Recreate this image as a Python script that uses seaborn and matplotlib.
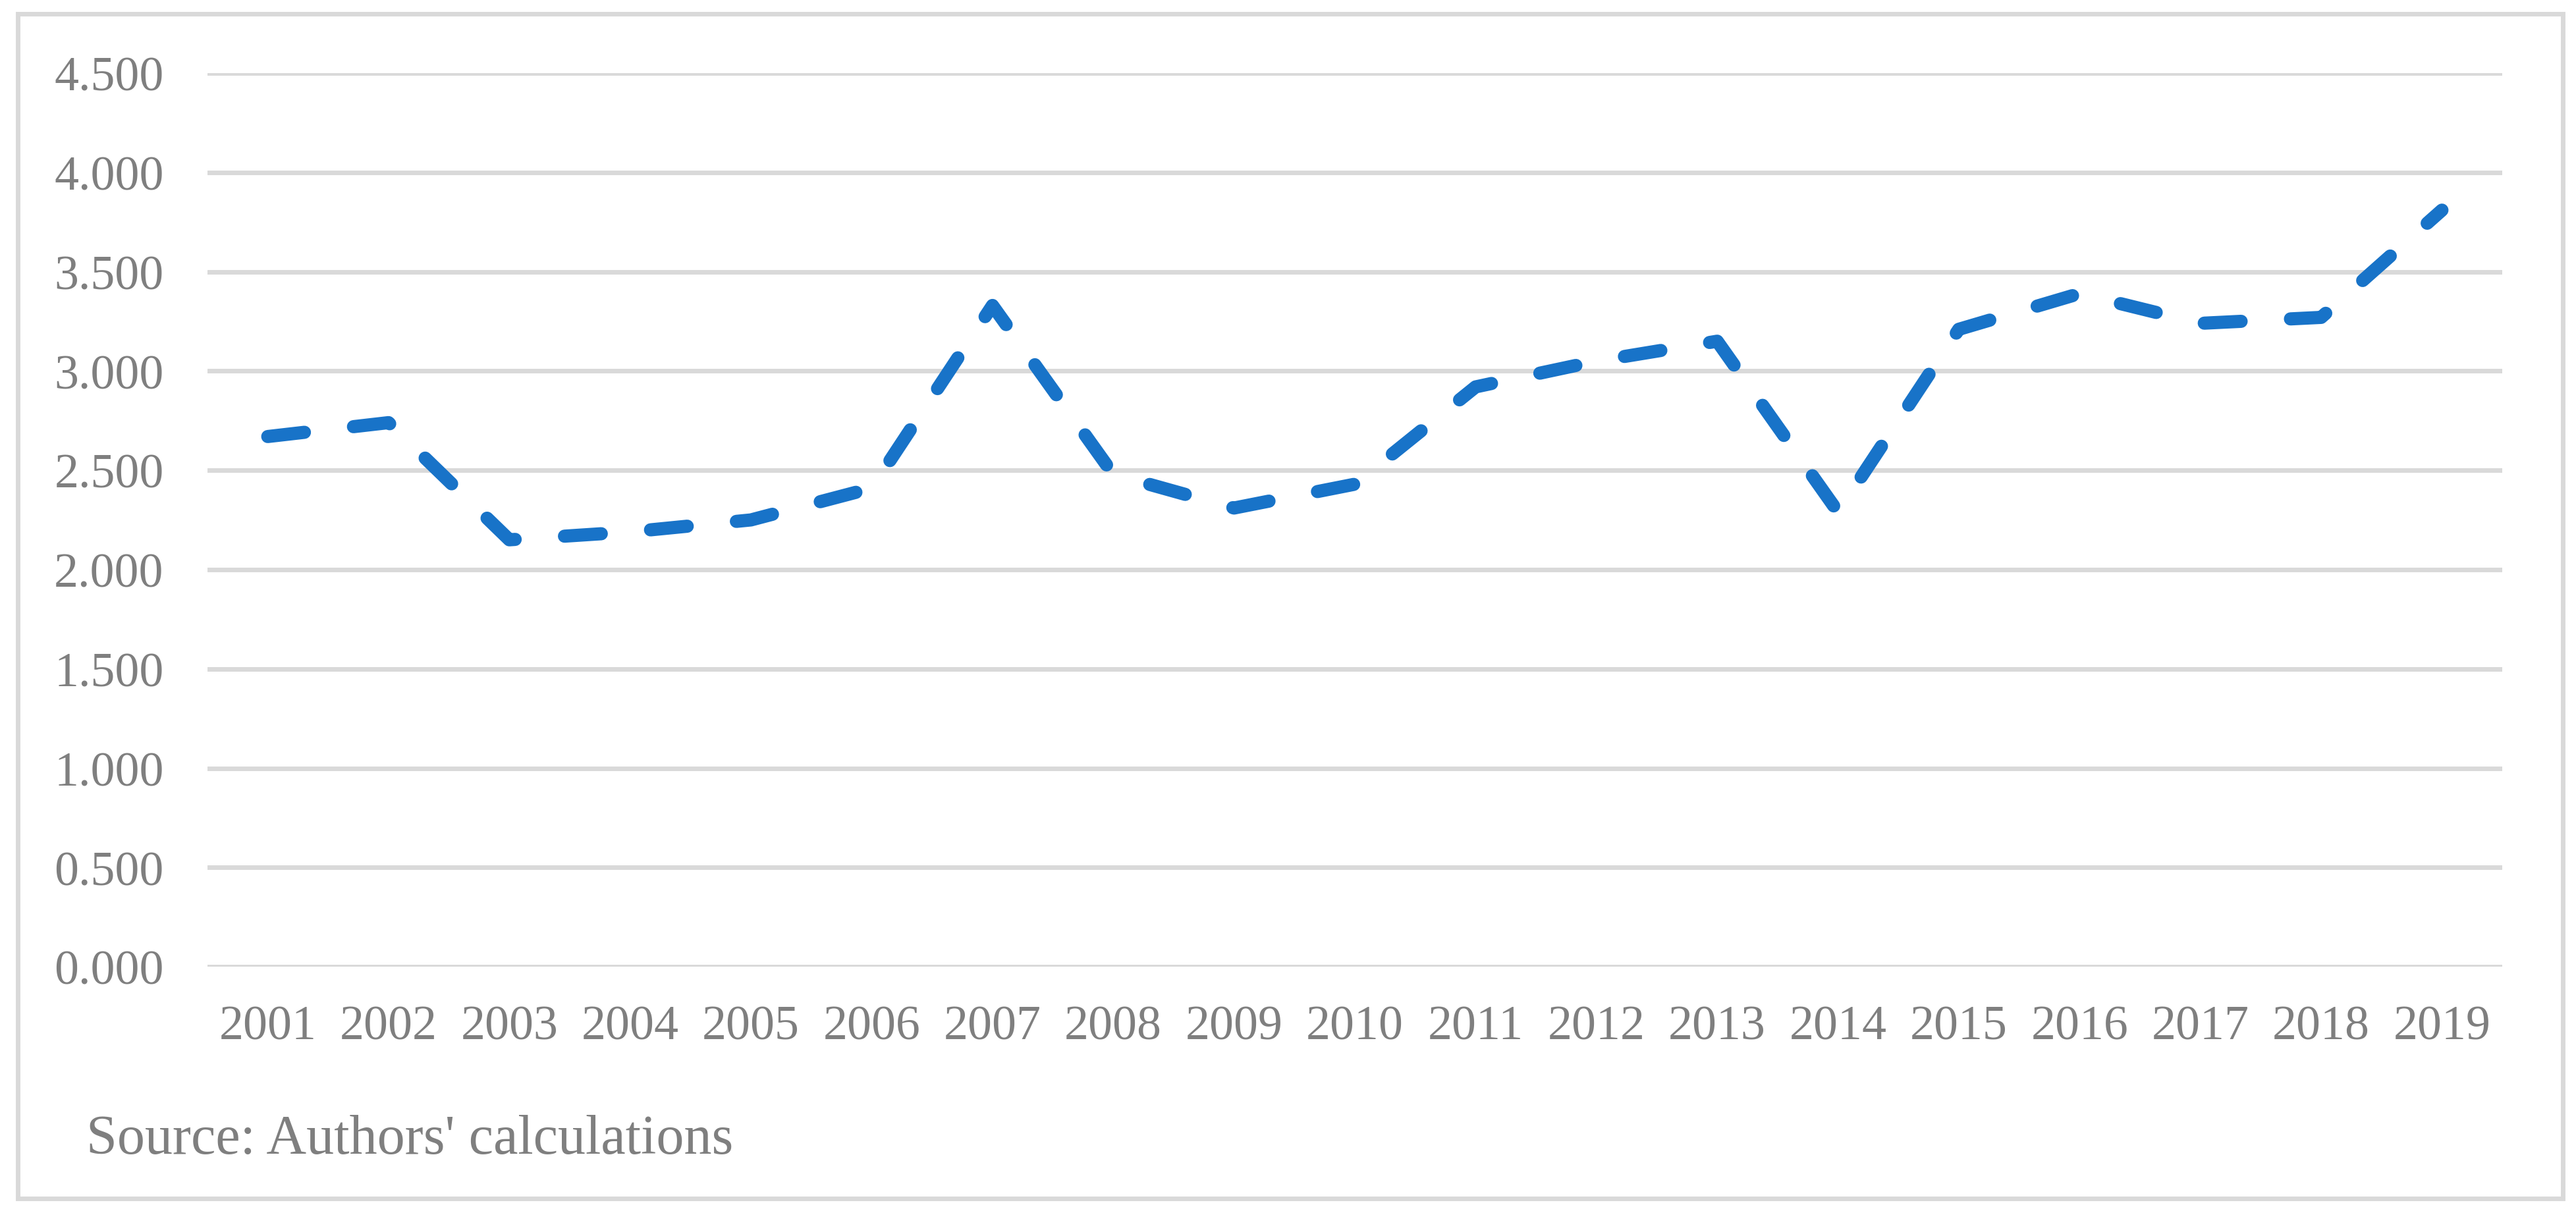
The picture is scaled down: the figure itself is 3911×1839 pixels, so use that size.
import pandas as pd
import matplotlib
matplotlib.use('Agg')
import matplotlib.pyplot as plt
from matplotlib.patches import Rectangle
from matplotlib.ticker import FormatStrFormatter, MultipleLocator
import seaborn as sns

years = ['2001', '2002', '2003', '2004', '2005', '2006', '2007', '2008', '2009', '2010',
         '2011', '2012', '2013', '2014', '2015', '2016', '2017', '2018', '2019']
values = [2.67, 2.74, 2.15, 2.19, 2.25, 2.41, 3.33, 2.48, 2.31, 2.43,
          2.92, 3.05, 3.15, 2.29, 3.21, 3.39, 3.24, 3.27, 3.81]
source_note = "Source: Authors' calculations"

text_grey = '#7f7f7f'
light_grey = '#d9d9d9'
line_blue = '#1873c8'

sns.set_style('white')
plt.rcParams['font.family'] = ['Liberation Serif', 'DejaVu Serif']

df = pd.DataFrame({'year': years, 'value': values})

fig = plt.figure(figsize=(19.555, 9.2), dpi=200)
ax = fig.add_axes([0.0805, 0.2016, 0.9714 - 0.0805, 0.9391 - 0.2016])

sns.lineplot(data=df, x='year', y='value', ax=ax, color=line_blue, lw=7.2,
             linestyle=(0, (2.8, 3.75)), dash_capstyle='round', dash_joinstyle='round',
             zorder=3)

ax.set_xlim(-0.5, len(years) - 0.5)
ax.set_ylim(0, 4.5)
ax.yaxis.set_major_locator(MultipleLocator(0.5))
ax.yaxis.set_major_formatter(FormatStrFormatter('%.3f'))
ax.grid(axis='y', color=light_grey, lw=2.5)
ax.grid(axis='x', visible=False)
ax.set_axisbelow(True)
for s in ax.spines.values():
    s.set_visible(False)

ax.tick_params(axis='y', length=0, pad=23.8, labelsize=26.6, labelcolor=text_grey)
ax.tick_params(axis='x', length=0, pad=21, labelsize=26.6, labelcolor=text_grey)
ax.set_xlabel('')
ax.set_ylabel('')

fig.text(0.0335, 0.0478, source_note, fontsize=30.3, color=text_grey, va='baseline', ha='left')

# light grey frame round the whole chart
fig.patches.append(Rectangle((0.0069, 0.0103), 0.988, 0.978, transform=fig.transFigure,
                             fill=False, edgecolor=light_grey, lw=2.5, zorder=0))

fig.savefig('out.png', dpi=200, facecolor='white')
